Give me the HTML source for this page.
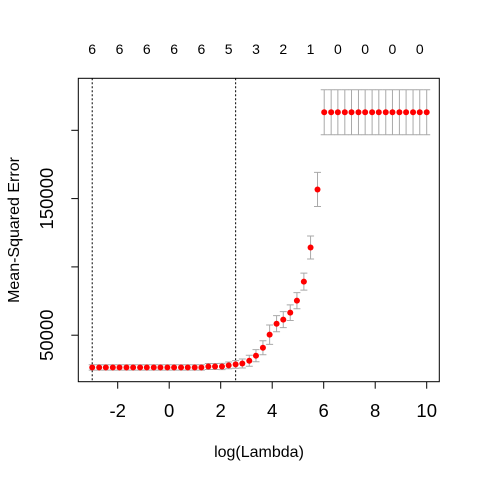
<!DOCTYPE html>
<html><head><meta charset="utf-8"><style>
body{margin:0;background:#fff}
svg text{font-family:"Liberation Sans",Arial,sans-serif}
</style></head><body>
<svg id="c" width="480" height="480" viewBox="0 0 480 480"></svg>
<script>
const logLambda=[-2.99,-2.72,-2.46,-2.19,-1.93,-1.66,-1.40,-1.13,-0.87,-0.60,-0.34,-0.07,0.19,0.46,0.72,0.99,1.25,1.52,1.78,2.05,2.31,2.58,2.84,3.11,3.37,3.64,3.90,4.17,4.43,4.70,4.96,5.23,5.49,5.76,6.02,6.29,6.55,6.82,7.08,7.35,7.61,7.88,8.14,8.41,8.67,8.94,9.20,9.47,9.73,10.00];
const mse=[26400,26400,26400,26400,26400,26400,26400,26400,26400,26400,26400,26400,26400,26400,26400,26400,26400,27100,27100,27100,27900,28600,29300,31300,35000,40800,50400,58400,61400,66500,75300,89200,114200,156700,213200,213200,213200,213200,213200,213200,213200,213200,213200,213200,213200,213200,213200,213200,213200,213200];
const se=[2000,2000,2000,2000,2000,2000,2000,2000,2000,2000,2000,2000,2000,2000,2000,2000,2000,2200,2200,2300,2500,2800,3300,4000,4400,5100,7100,5900,5900,5700,5900,6200,8400,12500,16500,16500,16500,16500,16500,16500,16500,16500,16500,16500,16500,16500,16500,16500,16500,16500];
const nzero=[6,6,6,6,6,5,3,2,1,0,0,0,0];
const xTicks=[-2,0,2,4,6,8,10];
const yTicks=[50000,100000,150000,200000];
const yLabels=[50000,150000];
const vlines=[-2.99,2.58];

const NS="http://www.w3.org/2000/svg",svg=document.getElementById('c');
const L=78.3,R=439.3,T=78.3,B=381.7;
const X=v=>169.2+v*25.75;
const Y=v=>130.3+(200000-v)/50000*68.3;
function el(t,a,txt){const e=document.createElementNS(NS,t);for(const k in a)e.setAttribute(k,a[k]);if(txt!==undefined)e.textContent=txt;svg.appendChild(e);return e;}

const box=el('rect',{x:L,y:T,width:R-L,height:B-T,fill:'none',stroke:'#000','stroke-width':1});



xTicks.forEach(t=>{
  const l=el('line',{x1:X(t),x2:X(t),y1:B,y2:B+7,stroke:'#000'});
  
  
  const tx=el('text',{x:X(t),y:417,'font-size':18.5,'text-anchor':'middle'},t);
  
  
});
yTicks.forEach(t=>{
  const l=el('line',{x1:L,x2:L-7,y1:Y(t),y2:Y(t),stroke:'#000'});
  
  
});
yLabels.forEach(t=>{
  const tx=el('text',{x:0,y:0,'font-size':18.5,'text-anchor':'middle',transform:`translate(53,${Y(t)}) rotate(-90)`},t);
  
  
});
const xt=el('text',{x:259,y:457,'font-size':16,'text-anchor':'middle'},'log(Lambda)');


const yt=el('text',{x:0,y:0,'font-size':16,'text-anchor':'middle',transform:'translate(19,230) rotate(-90)'},'Mean-Squared Error');



nzero.forEach((n,i)=>{
  const tx=el('text',{x:X(logLambda[i*4]),y:54,'font-size':14,'text-anchor':'middle'},n);
  
  
});
vlines.forEach(v=>{
  const l=el('line',{x1:X(v),x2:X(v),y1:T,y2:B,stroke:'#000','stroke-dasharray':'2,2'});
  
  
});
logLambda.forEach((v,i)=>{
  const x=X(v),y1=Y(mse[i]+se[i]),y2=Y(mse[i]-se[i]);
  const g=el('path',{d:`M${x},${y1}V${y2}M${x-3.5},${y1}H${x+3.5}M${x-3.5},${y2}H${x+3.5}`,stroke:'#a9a9a9','stroke-width':1,fill:'none'});
  
  
});
logLambda.forEach((v,i)=>{
  const c=el('circle',{cx:X(v),cy:Y(mse[i]),r:3,fill:'#ff0000'});
  
  
});
</script>
</body></html>
